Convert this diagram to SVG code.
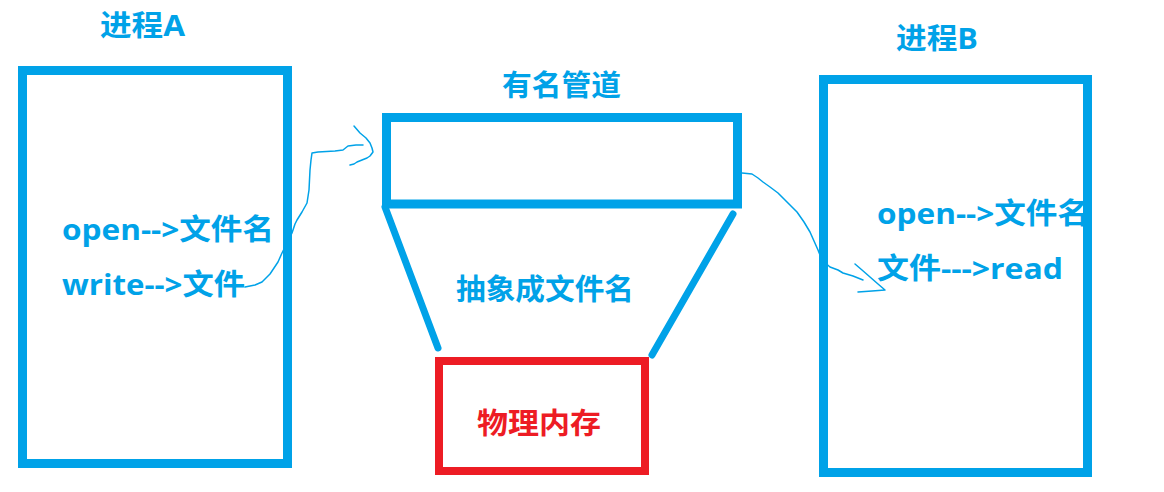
<svg xmlns="http://www.w3.org/2000/svg" width="1164" height="492" viewBox="0 0 1164 492">
<style>
.box{fill:none;stroke:#00A2E8;stroke-width:9}
.red{fill:none;stroke:#ED1C24;stroke-width:8}
.t{font-family:"Open Sans","Noto Sans CJK SC",sans-serif;font-weight:bold;font-size:29px;fill:#00A2E8}
.tr{fill:#ED1C24}
.funnel{stroke:#00A2E8;stroke-width:7;stroke-linecap:round;fill:none}
.wire{fill:none;stroke:#00A2E8;stroke-width:1.5;stroke-linejoin:round;stroke-linecap:round}
</style>
<rect width="1164" height="492" fill="#ffffff"/>
<g id="procA">
<text class="t" x="100" y="36" textLength="85" lengthAdjust="spacingAndGlyphs">进程A</text>
<text class="t" x="62" y="240" textLength="212" lengthAdjust="spacingAndGlyphs">open--&gt;文件名</text>
<text class="t" x="62" y="295" textLength="183" lengthAdjust="spacingAndGlyphs">write--&gt;文件</text>
<rect class="box" x="22.5" y="70.5" width="265" height="393"/>
</g>
<g id="pipe">
<text class="t" x="502" y="96" textLength="119" lengthAdjust="spacingAndGlyphs">有名管道</text>
<rect class="box" x="386.5" y="117.5" width="351" height="86.5"/>
<line class="funnel" x1="385" y1="207" x2="438" y2="348"/>
<line class="funnel" x1="733" y1="214" x2="652" y2="355"/>
<text class="t" x="456" y="300" textLength="178" lengthAdjust="spacingAndGlyphs">抽象成文件名</text>
</g>
<g id="memory">
<rect class="red" x="439" y="361" width="206" height="110"/>
<text class="t tr" x="477" y="434" textLength="124" lengthAdjust="spacingAndGlyphs">物理内存</text>
</g>
<g id="procB">
<text class="t" x="896" y="49" textLength="82" lengthAdjust="spacingAndGlyphs">进程B</text>
<text class="t" x="877" y="224" textLength="212" lengthAdjust="spacingAndGlyphs">open--&gt;文件名</text>
<text class="t" x="877" y="279" textLength="186" lengthAdjust="spacingAndGlyphs">文件---&gt;read</text>
<rect class="box" x="823.5" y="79.5" width="264" height="393"/>
</g>
<g id="connectors">
<path class="wire" d="M245 287 L255 285 L262 282 L270 274 L278 262 L282 253 L287 243 L292 233 L295 224 L297 220 L302 212 L307 203 L309 190 L310 170 L311 160 L312 153 L318 152 L335 151 L343 150 L348 146 L356 145 L363 145"/>
<path class="wire" d="M354 126 L360 133 L366 138 L370 143 L372 148 L373 152 L370 156 L367 158 L362 160 L357 162 L354 164 L350 165"/>
<path class="wire" d="M742 173 L752 174 L758 178 L763 182 L770 187 L778 193 L785 200 L791 206 L797 212 L804 222 L810 232 L814 241 L818 250 L822 260 L830 267 L838 270 L843 273 L853 276 L863 280"/>
<path class="wire" d="M855 264 L862 270 L870 277 L878 284 L885 290 L872 291 L858 292"/>
</g>
</svg>
